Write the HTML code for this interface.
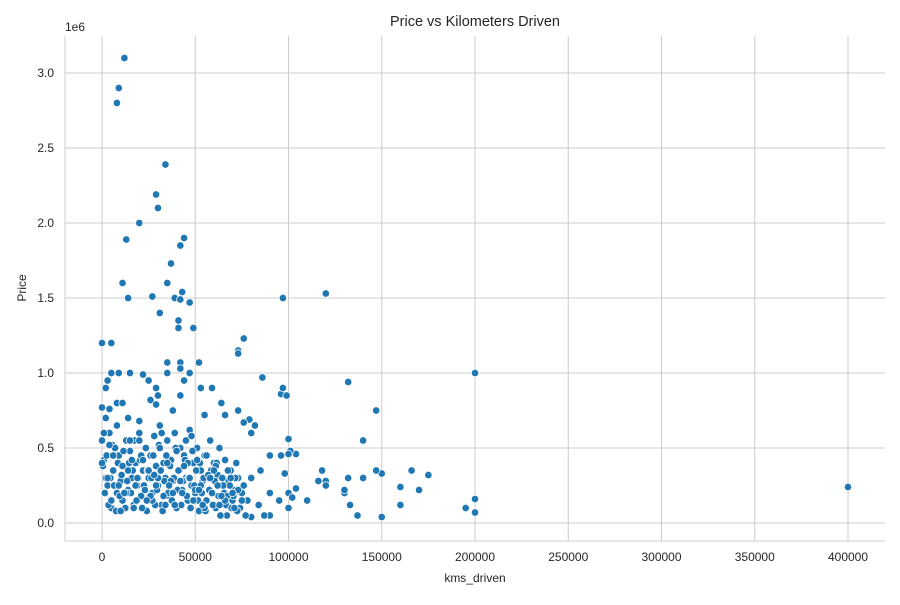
<!DOCTYPE html>
<html><head><meta charset="utf-8"><style>
body{margin:0;background:#fff;font-family:"Liberation Sans",sans-serif}
svg text{font-family:"Liberation Sans",sans-serif;fill:#262626}
</style></head><body>
<svg id="chart" width="900" height="600">
<text x="475" y="26" text-anchor="middle" font-size="14.5">Price vs Kilometers Driven</text>
<text x="65" y="31" font-size="12">1e6</text>
<text x="26" y="288" text-anchor="middle" font-size="12" transform="rotate(-90 26 288)">Price</text>
<text x="475" y="582" text-anchor="middle" font-size="12">kms_driven</text>
<g id="grid"></g><g id="ticks"></g><g id="pts"></g>
<line x1="65" y1="36" x2="65" y2="541" stroke="#ccc" stroke-width="1"/>
<line x1="65" y1="541" x2="885" y2="541" stroke="#ccc" stroke-width="1"/>
</svg>
<script>
const xTicks=[0,50000,100000,150000,200000,250000,300000,350000,400000];
const yTicks=[0,0.5,1.0,1.5,2.0,2.5,3.0];
const yTickLabels=["0.0","0.5","1.0","1.5","2.0","2.5","3.0"];
const kms=[12000,9000,8000,34000,29000,30000,20000,13000,44000,42000,37000,11000,35000,27000,14000,39000,43000,42000,47000,31000,41000,41000,49000,97000,120000,0,5000,76000,73000,73000,35000,52000,42000,42000,5000,9000,15000,35000,47000,200000,25000,44000,86000,132000,22000,3000,2000,53000,59000,96000,97000,99000,42000,29000,30000,8000,11000,26000,29000,64000,0,4000,38000,73000,147000,66000,55000,79000,76000,14000,20000,100000,140000,166000,175000,170000,160000,160000,150000,150000,147000,140000,137000,133000,130000,132000,120000,120000,118000,110000,104000,104000,101000,100000,98000,96000,90000,90000,90000,87000,85000,80000,80000,82000,80000,195000,200000,200000,400000,116000,100000,100000,102000,95000,130000,84000,
0,1000,2000,3000,4000,5000,6000,7000,8000,9000,10000,11000,12000,13000,14000,15000,16000,17000,18000,19000,20000,21000,22000,23000,24000,25000,26000,27000,28000,29000,30000,31000,32000,33000,34000,35000,36000,37000,38000,39000,40000,41000,42000,43000,44000,45000,46000,47000,48000,49000,50000,51000,52000,53000,54000,55000,56000,57000,58000,59000,60000,61000,62000,63000,64000,65000,66000,67000,68000,69000,70000,71000,72000,73000,74000,75000,76000,77000,78000,
500,1500,2500,3500,4500,5500,6500,7500,8500,9500,10500,11500,12500,13500,14500,15500,16500,17500,18500,19500,20500,21500,22500,23500,24500,25500,26500,27500,28500,29500,30500,31500,32500,33500,34500,35500,36500,37500,38500,39500,40500,41500,42500,43500,44500,45500,46500,47500,48500,49500,50500,51500,52500,53500,54500,55500,56500,57500,58500,59500,60500,61500,62500,63500,64500,65500,66500,67500,68500,69500,70500,71500,72500,
1000,3000,5000,7000,9000,11000,13000,15000,17000,19000,21000,23000,25000,27000,29000,31000,33000,35000,37000,39000,41000,43000,45000,47000,49000,51000,53000,55000,57000,59000,61000,63000,65000,67000,69000,71000,73000,75000,
2000,6000,10000,14000,18000,22000,26000,30000,34000,38000,42000,46000,50000,54000,58000,62000,66000,70000,
0,4000,8000,12000,16000,20000,24000,28000,32000,36000,40000,44000,48000,52000,56000,60000,64000];
const price=[3.1,2.9,2.8,2.39,2.19,2.1,2.0,1.89,1.9,1.85,1.73,1.6,1.6,1.51,1.5,1.5,1.54,1.49,1.47,1.4,1.35,1.3,1.3,1.5,1.53,1.2,1.2,1.23,1.15,1.13,1.07,1.07,1.07,1.03,1.0,1.0,1.0,1.0,1.0,1.0,0.95,0.95,0.97,0.94,0.99,0.95,0.9,0.9,0.9,0.86,0.9,0.85,0.85,0.9,0.85,0.8,0.8,0.82,0.79,0.8,0.77,0.76,0.75,0.75,0.75,0.72,0.72,0.69,0.67,0.7,0.68,0.56,0.55,0.35,0.32,0.22,0.24,0.12,0.33,0.04,0.35,0.3,0.05,0.12,0.2,0.3,0.28,0.25,0.35,0.15,0.23,0.46,0.48,0.46,0.33,0.45,0.45,0.2,0.05,0.05,0.35,0.3,0.04,0.65,0.6,0.1,0.16,0.07,0.24,0.28,0.2,0.1,0.17,0.15,0.22,0.12,
0.55,0.42,0.3,0.25,0.6,0.1,0.35,0.5,0.2,0.45,0.28,0.15,0.38,0.55,0.22,0.48,0.3,0.12,0.4,0.25,0.6,0.18,0.35,0.5,0.08,0.3,0.45,0.2,0.58,0.38,0.25,0.65,0.12,0.4,0.3,0.55,0.18,0.42,0.28,0.6,0.1,0.35,0.5,0.22,0.45,0.3,0.15,0.62,0.25,0.4,0.2,0.5,0.08,0.35,0.28,0.45,0.15,0.3,0.55,0.2,0.4,0.1,0.32,0.5,0.25,0.18,0.42,0.05,0.28,0.35,0.15,0.22,0.4,0.3,0.1,0.2,0.25,0.05,0.15,
0.38,0.2,0.45,0.12,0.3,0.52,0.25,0.08,0.4,0.18,0.32,0.48,0.1,0.28,0.4,0.2,0.35,0.55,0.15,0.3,0.42,0.1,0.25,0.5,0.35,0.18,0.3,0.45,0.12,0.22,0.52,0.35,0.08,0.28,0.45,0.2,0.38,0.15,0.3,0.5,0.22,0.35,0.12,0.28,0.42,0.18,0.3,0.1,0.48,0.25,0.35,0.15,0.4,0.2,0.3,0.08,0.45,0.22,0.35,0.12,0.28,0.4,0.18,0.05,0.3,0.2,0.12,0.35,0.25,0.1,0.18,0.3,0.08,
0.6,0.3,0.15,0.5,0.25,0.38,0.2,0.55,0.1,0.3,0.45,0.22,0.35,0.15,0.25,0.5,0.18,0.4,0.28,0.12,0.35,0.2,0.55,0.3,0.15,0.42,0.25,0.1,0.32,0.2,0.38,0.12,0.25,0.18,0.3,0.1,0.22,0.15,
0.7,0.45,0.08,0.35,0.25,0.42,0.18,0.3,0.12,0.2,0.28,0.4,0.22,0.12,0.3,0.25,0.15,0.2,
0.4,0.52,0.65,0.2,0.42,0.55,0.15,0.32,0.6,0.25,0.48,0.38,0.58,0.22,0.45,0.35,0.18];
const X=v=>102+v*(746/400000), Y=v=>523-v*150;
const ns="http://www.w3.org/2000/svg";
const grid=document.getElementById('grid'),ticks=document.getElementById('ticks'),pts=document.getElementById('pts');
xTicks.forEach(t=>{
 const l=document.createElementNS(ns,'line');l.setAttribute('x1',X(t));l.setAttribute('x2',X(t));l.setAttribute('y1',36);l.setAttribute('y2',541);l.setAttribute('stroke','#cccccc');
 
 
 grid.appendChild(l);
 const tx=document.createElementNS(ns,'text');tx.setAttribute('x',X(t));tx.setAttribute('y',561);tx.setAttribute('text-anchor','middle');tx.setAttribute('font-size','12');tx.textContent=t;
 
 
 ticks.appendChild(tx);
});
yTicks.forEach((t,i)=>{
 const l=document.createElementNS(ns,'line');l.setAttribute('y1',Y(t));l.setAttribute('y2',Y(t));l.setAttribute('x1',65);l.setAttribute('x2',885);l.setAttribute('stroke','#cccccc');
 
 
 grid.appendChild(l);
 const tx=document.createElementNS(ns,'text');tx.setAttribute('x',54);tx.setAttribute('y',Y(t)+4);tx.setAttribute('text-anchor','end');tx.setAttribute('font-size','12');tx.textContent=yTickLabels[i];
 
 
 ticks.appendChild(tx);
});
kms.forEach((k,i)=>{
 const c=document.createElementNS(ns,'circle');c.setAttribute('cx',X(k));c.setAttribute('cy',Y(price[i]));c.setAttribute('r',3.7);c.setAttribute('fill','#1f77b4');c.setAttribute('stroke','#fff');c.setAttribute('stroke-width','0.75');
 
 
 pts.appendChild(c);
});
</script>
</body></html>
